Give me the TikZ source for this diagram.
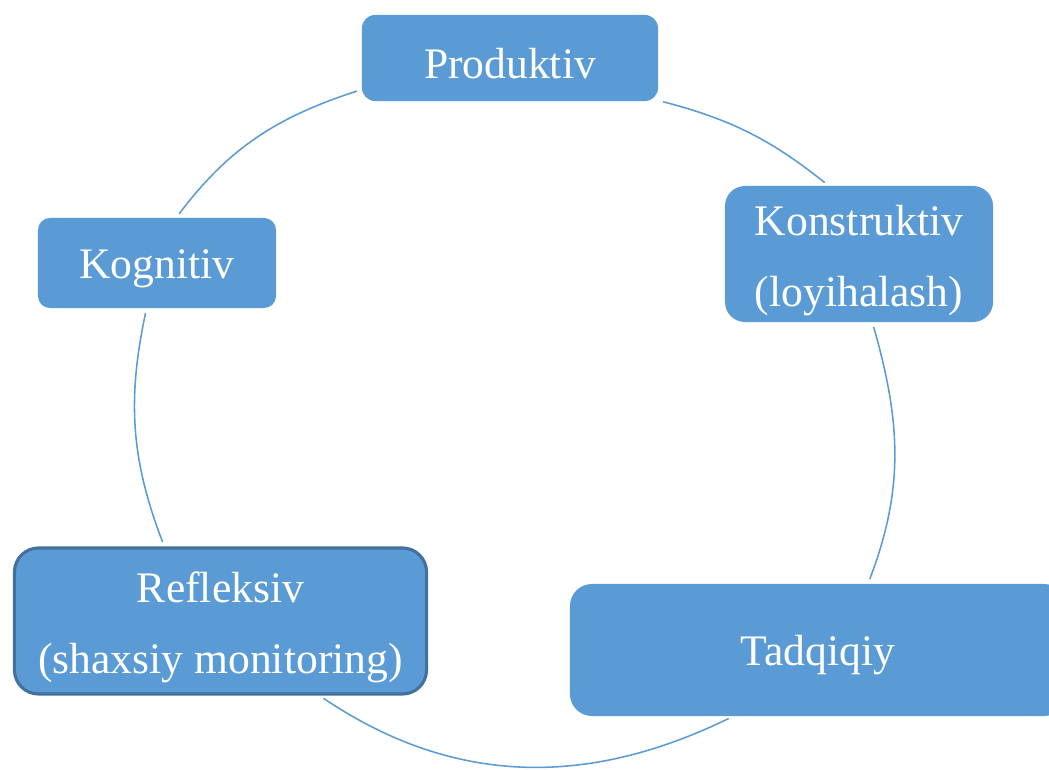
\documentclass[tikz,border=0pt]{standalone}
\usepackage{fontspec}
\setmainfont{Liberation Serif}
\definecolor{stageblue}{HTML}{5B9BD5}
\definecolor{stageedge}{HTML}{41719C}
\tikzset{
  stage/.style={rectangle, fill=stageblue, text=white, align=center, inner sep=0pt,
    font=\fontsize{31}{50}\selectfont, execute at begin node=\rule{0pt}{#1}},
  stage/.default=29pt,
  cyc/.style={draw=stageblue, line width=1.1pt, shorten <=3.5pt, shorten >=3.5pt}
}
\begin{document}
\begin{tikzpicture}[x=0.025cm,y=0.025cm]
  \useasboundingbox (0,0) rectangle (1049,769);
  \clip (0,0) rectangle (1049,769);
  %% Stages
  \node[stage, minimum width=7.4cm, minimum height=2.15cm, rounded corners=0.33cm] (prod) at (510,711) {Produktiv};
  \node[stage, minimum width=5.95cm, minimum height=2.25cm, rounded corners=0.3cm] (kog) at (157,506) {Kognitiv};
  \node[stage=81pt, minimum width=6.7cm, minimum height=3.4cm, rounded corners=0.5cm] (kon) at (859,515) {Konstruktiv\\(loyihalash)};
  \node[stage=81pt, draw=stageedge, line width=2.2pt, minimum width=10.3cm, minimum height=3.65cm, rounded corners=0.6cm] (ref) at (220.5,148) {Refleksiv\\(shaxsiy monitoring)};
  \node[stage, minimum width=12.4cm, minimum height=3.3cm, rounded corners=0.55cm] (tad) at (818,119) {Tadqiqiy};
  %% Cycle
  \draw[cyc] (kog.67) to[out=53,in=198] (prod.192);
  \draw[cyc] (prod.-16) to[bend left=12] (kon.114);
  \draw[cyc] (kon.-79) to[out=-74,in=69] (tad.53);
  \draw[cyc] (tad.218) to[out=206,in=326] (ref.-37);
  \draw[cyc] (ref.127) to[out=111,in=258] (kog.257);
\end{tikzpicture}
\end{document}
